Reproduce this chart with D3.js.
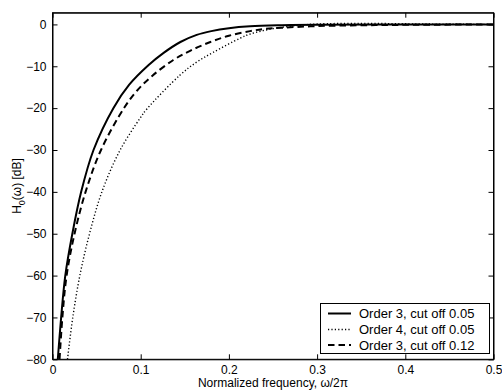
<!DOCTYPE html>
<html>
<head>
<meta charset="utf-8">
<script src="https://cdn.jsdelivr.net/npm/d3@7"></script>
<style>
  body { margin: 0; background: #fff; }
  text { font-family: "Liberation Sans", Arial, Helvetica, sans-serif; }
</style>
</head>
<body>
<div id="chart"></div>
<script>
// ---------- data (normalized frequency, dB) ----------
const seriesNames = ["Order 3, cut off 0.05", "Order 4, cut off 0.05", "Order 3, cut off 0.12"];

const order3cut005 = [
  [0.006, -80], [0.0098, -70], [0.0145, -60], [0.0225, -50], [0.0325, -40],
  [0.0465, -30], [0.069, -20], [0.087, -14.4], [0.109, -9.7], [0.126, -6.8],
  [0.145, -4.2], [0.1635, -2.5], [0.18, -1.6], [0.2, -0.9], [0.224, -0.45],
  [0.26, -0.2], [0.3, -0.08], [0.4, 0], [0.5, 0]
];

const order4cut005 = [
  [0.017, -80], [0.023, -70], [0.031, -60], [0.042, -50], [0.056, -40],
  [0.0767, -30], [0.0993, -22.4], [0.107, -20.2], [0.1446, -12.1],
  [0.1635, -9.0], [0.182, -6.7], [0.2126, -3.3], [0.224, -2.3], [0.25, -1.0],
  [0.28, -0.2], [0.3, 0.1], [0.35, 0.25], [0.4, 0.15], [0.45, 0.05], [0.5, 0]
];

const order3cut012 = [
  [0.008, -80], [0.0112, -70], [0.016, -60], [0.025, -50], [0.0375, -40],
  [0.055, -30], [0.081, -20], [0.0955, -15.9], [0.113, -12.3], [0.137, -8.5],
  [0.156, -6.3], [0.179, -4.2], [0.2, -2.7], [0.224, -1.6], [0.24, -1.1],
  [0.26, -0.8], [0.3, -0.4], [0.35, -0.2], [0.4, -0.1], [0.5, 0]
];

const xTicks = [0, 0.1, 0.2, 0.3, 0.4, 0.5];
const xTickLabels = ["0", "0.1", "0.2", "0.3", "0.4", "0.5"];
const yTicks = [0, -10, -20, -30, -40, -50, -60, -70, -80];
const yTickLabels = ["0", "\u221210", "\u221220", "\u221230", "\u221240", "\u221250", "\u221260", "\u221270", "\u221280"];

// ---------- layout ----------
const width = 502, height = 392;
const mLeft = 52.5, mRight = 493.5, mTop = 12.7, mBottom = 359.3;

const svg = d3.select("#chart")
  .append("svg")
  .attr("width", width)
  .attr("height", height);

const x = d3.scaleLinear().domain([0, 0.5]).range([mLeft, mRight]);
const y = d3.scaleLinear().domain([-80, 2.8]).range([mBottom, mTop]);

// clip so the curves stop at the axes
svg.append("clipPath").attr("id", "clip")
  .append("rect")
  .attr("x", mLeft).attr("y", mTop)
  .attr("width", mRight - mLeft).attr("height", mBottom - mTop);

// ---------- axes (matlab style: inward ticks on all four sides) ----------
const fmtX = function(d, i) { return xTickLabels[i]; };
const fmtY = function(d, i) { return yTickLabels[i]; };

svg.append("g")
  .attr("transform", "translate(0," + mBottom + ")")
  .call(d3.axisBottom(x).tickValues(xTicks).tickFormat(fmtX).tickSizeInner(-5).tickSizeOuter(0).tickPadding(6));

svg.append("g")
  .attr("transform", "translate(0," + mTop + ")")
  .call(d3.axisTop(x).tickValues(xTicks).tickFormat("").tickSizeInner(-5).tickSizeOuter(0));

svg.append("g")
  .attr("transform", "translate(" + mLeft + ",0)")
  .call(d3.axisLeft(y).tickValues(yTicks).tickFormat(fmtY).tickSizeInner(-5).tickSizeOuter(0).tickPadding(6));

svg.append("g")
  .attr("transform", "translate(" + mRight + ",0)")
  .call(d3.axisRight(y).tickValues(yTicks).tickFormat("").tickSizeInner(-5).tickSizeOuter(0));

svg.selectAll(".tick text")
  .style("font-size", "12px")
  .attr("fill", "#000");
svg.selectAll(".domain, .tick line").attr("stroke", "#000");

// box
svg.append("rect")
  .attr("x", mLeft).attr("y", mTop)
  .attr("width", mRight - mLeft).attr("height", mBottom - mTop)
  .attr("fill", "none")
  .attr("stroke", "#000")
  .attr("stroke-width", 1);

// ---------- curves ----------
const line = d3.line()
  .x(function(d) { return x(d[0]); })
  .y(function(d) { return y(d[1]); })
  .curve(d3.curveCatmullRom.alpha(0.5));

const styles = [
  { data: order3cut005, width: 2, dash: null },
  { data: order4cut005, width: 1.4, dash: "1.2,2.2" },
  { data: order3cut012, width: 2, dash: "6.5,4" }
];

const curves = svg.append("g").attr("clip-path", "url(#clip)");
styles.forEach(function(s) {
  curves.append("path")
    .datum(s.data)
    .attr("d", line)
    .attr("fill", "none")
    .attr("stroke", "#000")
    .attr("stroke-width", s.width)
    .attr("stroke-dasharray", s.dash);
});

// ---------- legend ----------
const lg = svg.append("g");
lg.append("rect")
  .attr("x", 320.5).attr("y", 303.5)
  .attr("width", 169).attr("height", 50)
  .attr("fill", "#fff")
  .attr("stroke", "#000");

const rowY = [313.5, 329.5, 345];
styles.forEach(function(s, i) {
  lg.append("line")
    .attr("x1", 328).attr("x2", 351)
    .attr("y1", rowY[i]).attr("y2", rowY[i])
    .attr("stroke", "#000")
    .attr("stroke-width", s.width)
    .attr("stroke-dasharray", s.dash);
  lg.append("text")
    .attr("x", 359)
    .attr("y", rowY[i])
    .attr("dy", "0.36em")
    .style("font-size", "13px")
    .text(seriesNames[i]);
});

// ---------- axis titles ----------
svg.append("text")
  .attr("x", (mLeft + mRight) / 2)
  .attr("y", 387)
  .attr("text-anchor", "middle")
  .style("font-size", "12px")
  .text("Normalized frequency, \u03c9/2\u03c0");

const yl = svg.append("text")
  .attr("transform", "translate(21," + ((mTop + mBottom) / 2) + ") rotate(-90)")
  .attr("text-anchor", "middle")
  .style("font-size", "12px");
yl.append("tspan").text("H");
yl.append("tspan").attr("dy", 4).style("font-size", "9px").text("0");
yl.append("tspan").attr("dy", -4).text("(\u03c9) [dB]");
</script>
</body>
</html>
